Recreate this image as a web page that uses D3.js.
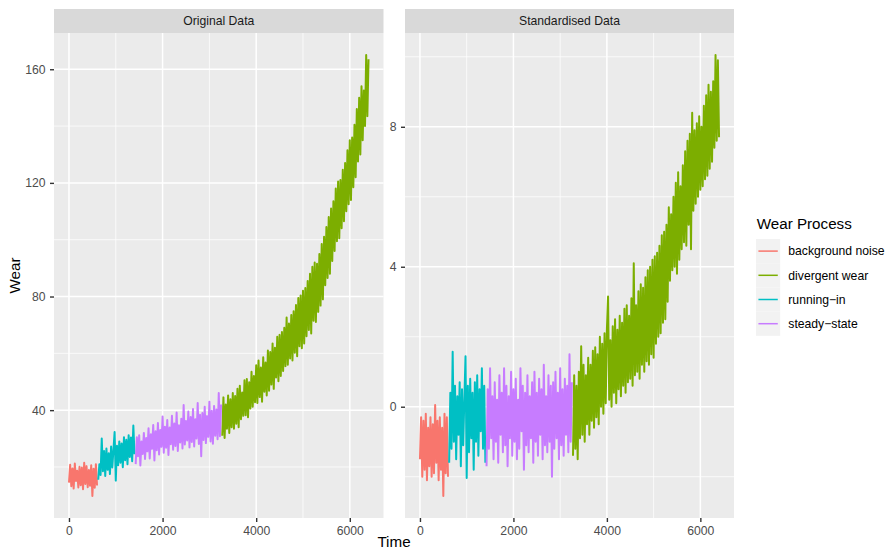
<!DOCTYPE html>
<html>
<head>
<meta charset="utf-8">
<script src="https://cdn.jsdelivr.net/npm/d3@7"></script>
<style>
  body { margin: 0; background: #fff; }
  svg { font-family: "Liberation Sans", Arial, sans-serif; }
</style>
</head>
<body>
<div id="chart"></div>
<script>
// Wear process groups (legend order) and the time each one starts
const processNames = ["background noise", "divergent wear", "running\u2212in", "steady\u2212state"];
const processColours = ["#F8766D", "#7CAE00", "#00BFC4", "#C77CFF"];
const processStarts = [0, 3275, 625, 1425];
const timeStep = 25;

// Original wear readings
const origBackground = [14.5, 20.8, 13.2, 19.5, 12.4, 21.2, 15.1, 18.7, 12.8, 20.1, 13.6, 19.8, 12.2,
  21.5, 14.0, 20.3, 12.9, 18.9, 13.4, 20.6, 9.8, 19.4, 12.7, 21.0, 13.5];
const origRunningIn = [15.5, 21.0, 17.2, 30.0, 18.5, 25.6, 16.8, 26.5, 19.0, 24.8, 17.5, 27.2, 19.8,
  26.0, 32.3, 15.2, 27.5, 20.6, 29.0, 21.5, 28.3, 19.9, 30.5, 22.4, 29.6, 21.0, 31.2, 23.5, 30.4,
  22.0, 34.6, 24.5];
const origSteady = [21.0, 30.5, 23.8, 31.2, 20.5, 29.0, 24.6, 32.0, 22.8, 30.2, 25.5, 33.6, 23.0,
  31.5, 26.4, 34.8, 22.3, 32.6, 25.9, 35.5, 24.4, 33.0, 27.1, 37.8, 25.0, 34.2, 26.8, 36.5, 24.2,
  33.9, 28.0, 38.0, 26.1, 35.3, 27.4, 39.2, 25.6, 34.7, 28.6, 37.0, 26.5, 41.8, 27.9, 36.2, 29.3,
  39.5, 26.9, 37.6, 28.8, 40.4, 27.2, 36.8, 30.0, 42.5, 28.1, 38.4, 23.8, 39.0, 29.5, 41.2, 28.4,
  37.9, 30.6, 43.0, 29.0, 39.8, 28.2, 41.5, 31.0, 40.2, 29.8, 46.0, 30.8, 42.0];
const origDivergent = [31.0, 44.5, 30.2, 42.0, 33.5, 45.2, 32.0, 43.8, 34.0, 46.0,
  33.5, 45.0, 35.2, 47.5, 34.0, 48.6, 36.8, 46.2, 38.0, 50.5,
  38.2, 51.0, 37.5, 49.8, 40.6, 53.5, 41.2, 52.0, 42.8, 55.8,
  42.5, 57.5, 44.6, 55.0, 43.0, 58.6, 46.5, 56.8, 45.2, 61.0,
  46.8, 60.5, 49.0, 63.5, 47.5, 62.0, 51.5, 65.8, 50.2, 66.5,
  52.0, 67.5, 53.8, 69.0, 55.5, 72.6, 56.0, 70.5, 58.2, 73.5,
  57.5, 74.8, 60.2, 77.0, 59.0, 79.5, 62.5, 80.4, 61.8, 82.0,
  63.5, 83.0, 66.0, 85.5, 68.2, 88.0, 67.0, 90.5, 71.5, 92.0,
  71.0, 91.5, 74.6, 95.0, 76.8, 98.5, 79.0, 101.0, 84.0, 104.5,
  86.5, 108.0, 88.0, 111.0, 92.5, 113.5, 96.0, 118.0, 99.5, 120.5,
  100.5, 121.0, 104.0, 124.6, 106.5, 127.0, 110.0, 131.5, 112.5, 135.0,
  114.0, 136.0, 118.5, 140.5, 122.0, 146.0, 127.5, 150.0, 130.0, 154.0,
  135.0, 152.5, 140.0, 165.0, 143.5, 163.5];

// Standardised wear readings
const stdBackground = [-1.5, -0.3, -2.0, -0.4, -1.8, -0.2, -2.1, -0.6, -1.7, -0.3, -2.0, -0.5, -1.9,
  0.05, -1.6, -0.4, -2.1, -0.3, -1.8, -0.6, -2.55, -0.2, -1.9, -0.3, -2.0];
const stdRunningIn = [-1.6, 0.4, -1.2, 1.57, -1.0, 0.6, -1.5, 0.3, -0.8, 0.7, -1.7, 0.5, -1.1, 0.2,
  1.44, -2.04, 0.6, -1.3, 0.8, -0.9, 0.4, -1.8, 0.7, -1.0, 0.9, -1.4, 0.5, -0.7, 1.1, -1.2, 0.6, -1.6];
const stdSteady = [-1.7, 0.5, -1.2, 1.1, -0.9, 0.3, -1.5, 0.7, -1.0, 0.2, -1.6, 0.9, -0.8, 0.4, -1.3,
  1.1, -1.1, 0.6, -1.7, 0.3, -0.9, 1.0, -1.4, 0.5, -1.0, 0.8, -1.5, 0.2, -1.2, 1.1, -0.7, 0.6, -1.8,
  0.4, -1.1, 0.9, -1.3, 0.3, -0.9, 0.7, -1.6, 1.0, -1.0, 0.4, -1.4, 0.8, -0.8, 0.5, -1.5, 1.2, -1.1,
  0.3, -1.3, 0.9, -1.0, 0.6, -2.0, 0.7, -1.2, 1.0, -0.9, 0.4, -1.5, 1.1, -1.1, 0.5, -1.4, 0.8, -0.8,
  0.6, -1.3, 1.5, -1.0, 0.7];
const stdDivergent = [-1.4, 0.9, -1.2, 0.6, -1.5, 1.0, -0.9, 1.73, -0.8, 1.2,
  -1.0, 0.9, -0.5, 1.4, -0.8, 1.2, -0.4, 1.6, -0.6, 1.7,
  -0.3, 1.5, -0.5, 2.0, 0.0, 1.8, -0.2, 2.1, 0.1, 2.2,
  3.15, 0.2, 1.9, 0.0, 2.3, 0.4, 2.5, 0.1, 2.2, 0.5,
  2.6, 0.3, 2.4, 0.6, 2.8, 0.4, 2.9, 0.7, 2.6, 0.8,
  3.1, 0.6, 4.1, 0.9, 2.9, 1.0, 3.3, 0.8, 3.5, 1.2,
  3.4, 1.0, 3.7, 1.3, 3.9, 1.2, 4.0, 1.5, 4.2, 1.4,
  4.3, 1.8, 4.4, 2.0, 4.6, 2.1, 4.9, 2.4, 5.0, 2.5,
  5.2, 3.0, 5.7, 3.6, 5.5, 3.9, 6.0, 4.0, 6.4, 3.8,
  6.7, 4.2, 6.3, 4.5, 6.9, 4.7, 7.3, 4.6, 7.6, 5.2,
  7.8, 4.5, 8.4, 5.6, 7.9, 5.8, 8.1, 6.0, 8.3, 6.2,
  8.0, 6.3, 8.6, 6.5, 8.9, 6.6, 9.2, 6.8, 9.0, 7.0,
  9.3, 7.4, 10.05, 7.6, 9.9, 7.7];

// Tick labels
const timeTicks = [0, 2000, 4000, 6000];
const origWearTicks = [40, 80, 120, 160];
const stdWearTicks = [0, 4, 8];

// Layout
const width = 888, height = 551;
const stripTop = 9, panelTop = 33, panelBottom = 518;
const smallFont = "12.2px", titleFont = "15.2px";

const svg = d3.select("#chart")
  .append("svg")
  .attr("width", width)
  .attr("height", height);

svg.append("rect").attr("width", width).attr("height", height).attr("fill", "#fff");

const panels = [
  { title: "Original Data", left: 54, right: 383.5, ticks: origWearTicks,
    series: [origBackground, origDivergent, origRunningIn, origSteady] },
  { title: "Standardised Data", left: 405, right: 734, ticks: stdWearTicks,
    series: [stdBackground, stdDivergent, stdRunningIn, stdSteady] }
];

// ggplot style 5% expansion
function expand(ext) {
  const pad = (ext[1] - ext[0]) * 0.05;
  return [ext[0] - pad, ext[1] + pad];
}

// minor breaks halfway between major ones
function minorBreaks(ticks, domain) {
  const step = ticks[1] - ticks[0];
  return d3.range(ticks[0] - step / 2, ticks[ticks.length - 1] + step, step)
    .filter(v => v >= domain[0] && v <= domain[1]);
}

const lastTime = d3.max(panels[0].series.map((s, k) => processStarts[k] + (s.length - 1) * timeStep));

panels.forEach(p => {
  // turn arrays into rows
  const groups = p.series.map((vals, k) => vals.map((v, i) => ({ t: processStarts[k] + i * timeStep, v: v })));
  const allVals = groups.flat();

  const x = d3.scaleLinear().domain(expand([0, lastTime])).range([p.left, p.right]);
  const y = d3.scaleLinear().domain(expand(d3.extent(allVals, d => d.v))).range([panelBottom, panelTop]);

  const g = svg.append("g");

  // panel background
  g.append("rect")
    .attr("x", p.left).attr("y", panelTop)
    .attr("width", p.right - p.left).attr("height", panelBottom - panelTop)
    .attr("fill", "#EBEBEB");

  // minor grid
  minorBreaks(p.ticks, y.domain()).forEach(v => {
    g.append("line").attr("x1", p.left).attr("x2", p.right).attr("y1", y(v)).attr("y2", y(v))
      .attr("stroke", "#fff").attr("stroke-width", 0.75);
  });
  minorBreaks(timeTicks, x.domain()).forEach(v => {
    g.append("line").attr("y1", panelTop).attr("y2", panelBottom).attr("x1", x(v)).attr("x2", x(v))
      .attr("stroke", "#fff").attr("stroke-width", 0.75);
  });
  // major grid
  p.ticks.forEach(v => {
    g.append("line").attr("x1", p.left).attr("x2", p.right).attr("y1", y(v)).attr("y2", y(v))
      .attr("stroke", "#fff").attr("stroke-width", 1.5);
  });
  timeTicks.forEach(v => {
    g.append("line").attr("y1", panelTop).attr("y2", panelBottom).attr("x1", x(v)).attr("x2", x(v))
      .attr("stroke", "#fff").attr("stroke-width", 1.5);
  });

  // series lines
  const line = d3.line().x(d => x(d.t)).y(d => y(d.v));
  g.selectAll(".wear")
    .data(groups)
    .join("path")
    .attr("class", "wear")
    .attr("d", line)
    .attr("fill", "none")
    .attr("stroke", (d, k) => processColours[k])
    .attr("stroke-width", 2)
    .attr("stroke-linejoin", "round");

  // strip
  g.append("rect")
    .attr("x", p.left).attr("y", stripTop)
    .attr("width", p.right - p.left).attr("height", panelTop - stripTop)
    .attr("fill", "#D9D9D9");
  g.append("text")
    .attr("x", (p.left + p.right) / 2).attr("y", 25.4)
    .attr("text-anchor", "middle")
    .attr("font-size", smallFont)
    .attr("fill", "#1A1A1A")
    .text(p.title);

  // axes
  const yAxis = g.append("g")
    .attr("transform", `translate(${p.left},0)`)
    .call(d3.axisLeft(y).tickValues(p.ticks).tickSize(4).tickPadding(4.5));
  const xAxis = g.append("g")
    .attr("transform", `translate(0,${panelBottom})`)
    .call(d3.axisBottom(x).tickValues(timeTicks).tickFormat(d3.format("d")).tickSize(4).tickPadding(4.7));

  [yAxis, xAxis].forEach(a => {
    a.select(".domain").remove();
    a.selectAll("line").attr("stroke", "#333333").attr("stroke-width", 1.4);
    a.selectAll("text").attr("fill", "#4D4D4D").attr("font-size", smallFont)
      .attr("font-family", "Liberation Sans, Arial, sans-serif");
  });
});

// axis titles
svg.append("text")
  .attr("x", (panels[0].left + panels[1].right) / 2)
  .attr("y", 547)
  .attr("text-anchor", "middle")
  .attr("font-size", titleFont)
  .text("Time");

svg.append("text")
  .attr("transform", `translate(20,${(panelTop + panelBottom) / 2}) rotate(-90)`)
  .attr("text-anchor", "middle")
  .attr("font-size", titleFont)
  .text("Wear");

// legend
const legend = svg.append("g").attr("transform", "translate(756,239)");
const keySize = 24.2;

legend.append("text")
  .attr("x", 0.7).attr("y", -9.7)
  .attr("font-size", titleFont)
  .text("Wear Process");

processNames.forEach((name, i) => {
  const row = legend.append("g").attr("transform", `translate(0,${i * keySize})`);
  row.append("rect")
    .attr("width", keySize).attr("height", keySize)
    .attr("fill", "#F2F2F2");
  row.append("line")
    .attr("x1", keySize * 0.1).attr("x2", keySize * 0.9)
    .attr("y1", keySize / 2).attr("y2", keySize / 2)
    .attr("stroke", processColours[i])
    .attr("stroke-width", 1.5);
  row.append("text")
    .attr("x", 32.3).attr("y", keySize / 2)
    .attr("dy", "0.35em")
    .attr("font-size", smallFont)
    .text(name);
});
</script>
</body>
</html>
